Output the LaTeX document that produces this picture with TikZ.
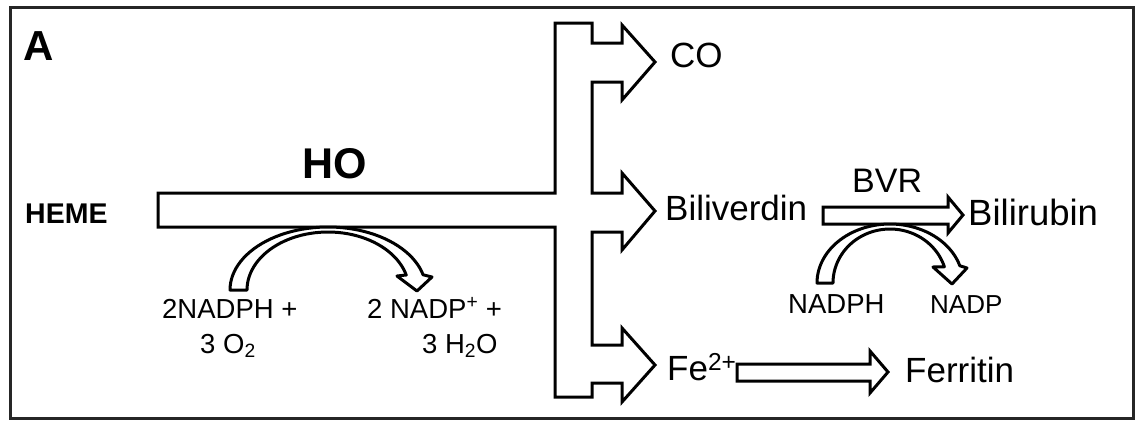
\documentclass[tikz,border=0pt]{standalone}
\usepackage{fontspec}
\setmainfont{Liberation Sans}
\begin{document}
\begin{tikzpicture}[x=1pt,y=-1pt,
  lbl/.style={font=\fontsize{35}{42}\selectfont, inner sep=0pt, anchor=base west},
  small/.style={font=\fontsize{27.5}{33}\selectfont, inner sep=0pt, anchor=base west},
  boldlbl/.style={font=\fontsize{#1}{#1}\selectfont\bfseries, inner sep=0pt, anchor=base west},
  fatarrow/.style={draw=black, fill=white, line width=3pt, line join=miter}]
\useasboundingbox (0,0) rectangle (1136,421);
\draw[line width=3pt, draw=black!85] (10,7) rectangle (1133,418);

% main HO arrow
\draw[fatarrow] (158,193) -- (555,193) -- (555,23) -- (592,23) -- (592,43) -- (622,43)
  -- (622,25) -- (655,62) -- (622,100) -- (622,82) -- (592,82) -- (592,193)
  -- (622,193) -- (622,173) -- (655,211) -- (622,250) -- (622,232) -- (592,232)
  -- (592,345) -- (622,345) -- (622,328) -- (655,365) -- (622,402) -- (622,383)
  -- (592,383) -- (592,397) -- (555,397) -- (555,227) -- (158,227) -- cycle;

% curved cofactor arrow (HO)
\draw[fatarrow, line join=round]
  plot[domain=180:14, samples=50] ({328+98*cos(\x)}, {290-63*sin(\x)})
  -- (432,277) -- (417,291) -- (397,276)
  -- plot[domain=15:180, samples=50] ({328+81*cos(\x)}, {290-58*sin(\x)}) -- cycle;

% BVR arrow
\draw[fatarrow] (823,207) -- (948,207) -- (948,197) -- (963,215) -- (948,233) -- (948,224) -- (823,224) -- cycle;

% curved cofactor arrow (BVR)
\draw[fatarrow, line join=round]
  plot[domain=180:17, samples=50] ({890+73*cos(\x)}, {283-59*sin(\x)})
  -- (967,268) -- (952,284) -- (933,267)
  -- plot[domain=17.5:180, samples=50] ({890+57*cos(\x)}, {283-54*sin(\x)}) -- cycle;

% Fe arrow
\draw[fatarrow] (737,364) -- (870,364) -- (870,351) -- (888,372) -- (870,393) -- (870,381) -- (737,381) -- cycle;

% labels
\node[boldlbl=42] (a) at (23,60) {A};
\node[boldlbl=28.5] (heme) at (25,223) {HEME};
\node[boldlbl=43] (ho) at (302,178) {HO};
\node[lbl] (co) at (670,67) {CO};
\node[lbl] (biliverdin) at (665,220) {Biliverdin};
\node[lbl, font=\fontsize{36.5}{42}\selectfont] (bilirubin) at (968,225) {Bilirubin};
\node[lbl, font=\fontsize{34}{40}\selectfont] (bvr) at (852,192) {BVR};
\node[lbl] (fe) at (667,380) {Fe\textsuperscript{2+}};
\node[lbl] (ferritin) at (905,382) {Ferritin};
\node[small] (nadphR) at (788,313) {NADPH};
\node[small, font=\fontsize{26}{30}\selectfont] (nadpR) at (930,313) {NADP};
\node[small] (nadphL) at (162,318) {2NADPH +};
\node[small] (o2) at (200,353) {3 O\textsubscript{2}};
\node[small] (nadpL) at (367,318) {2 NADP\textsuperscript{+} +};
\node[small] (h2o) at (422,353) {3 H\textsubscript{2}O};
\end{tikzpicture}
\end{document}
